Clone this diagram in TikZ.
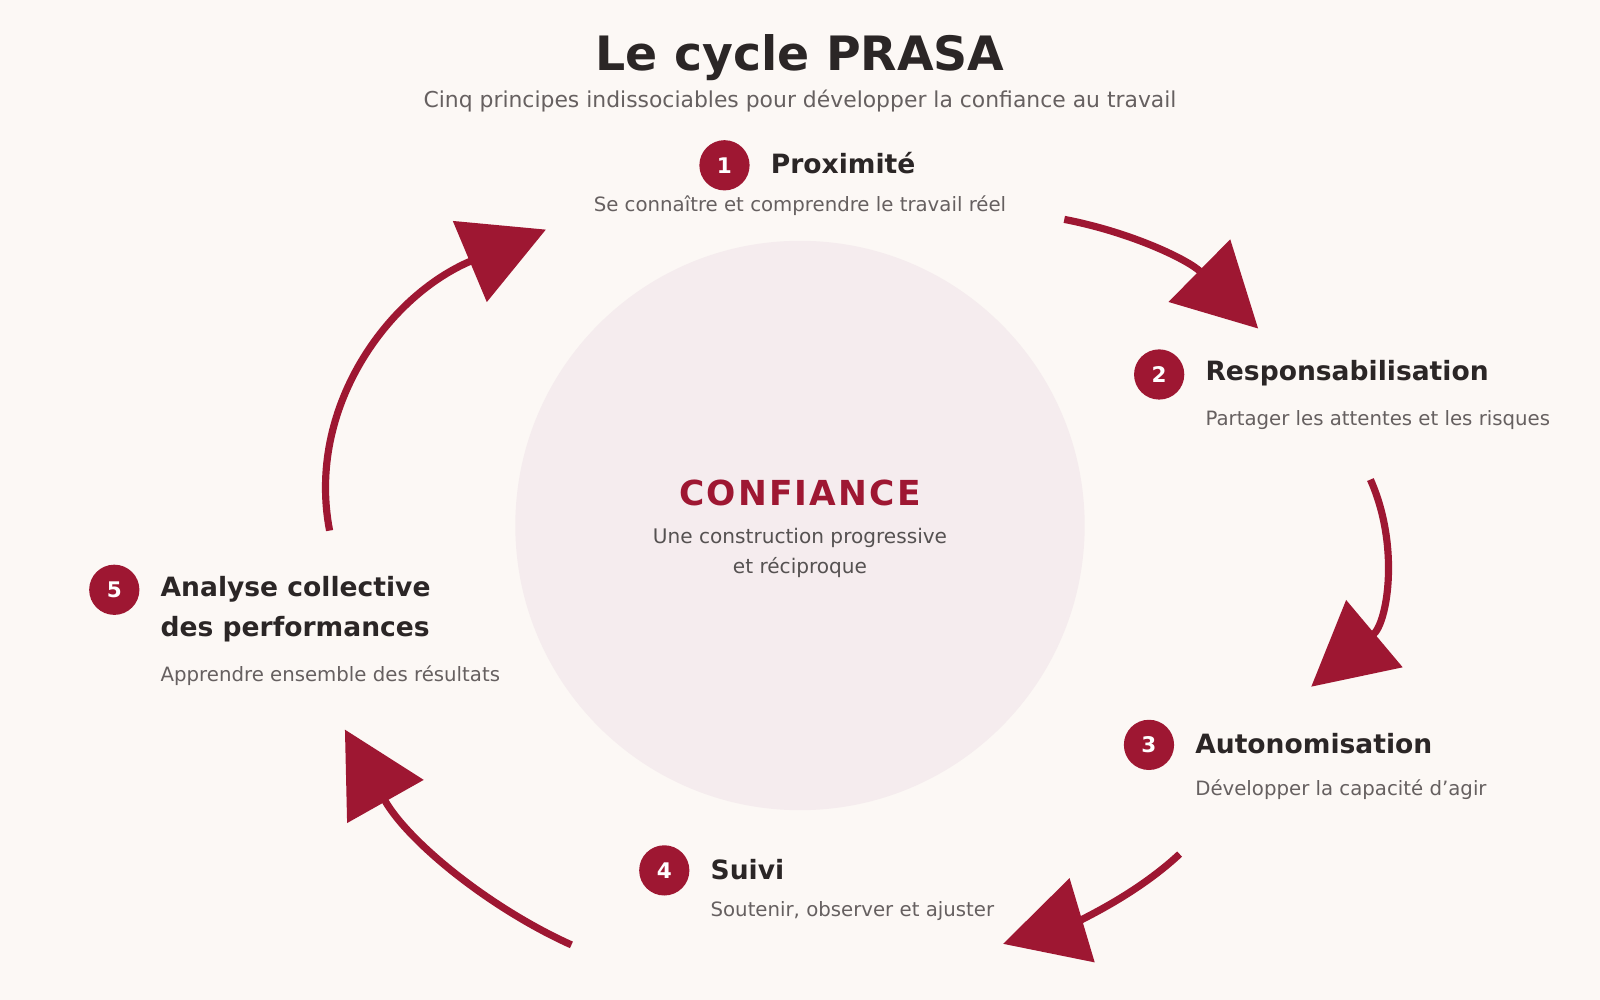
\documentclass[tikz,border=0pt]{standalone}
\usepackage{fontspec}
\setmainfont{DejaVu Sans}
\usetikzlibrary{arrows.meta, positioning}
\definecolor{crimson}{HTML}{9E1732}
\definecolor{paper}{HTML}{FCF8F5}
\definecolor{halo}{HTML}{F5ECEE}
\definecolor{ink}{HTML}{2B2626}
\definecolor{muted}{HTML}{666060}
\tikzset{
  num/.style={circle, fill=crimson, minimum size=14pt, inner sep=0pt, text=white, font=\fontsize{6}{7}\selectfont\bfseries},
  phase/.style={anchor=west, text=ink, font=\fontsize{7.4}{11}\selectfont\bfseries, align=left},
  desc/.style={anchor=west, text=muted, font=\fontsize{5.5}{7}\selectfont},
  flow/.style={crimson, line width=2pt, -{Triangle[length=23pt, width=24pt]}}
}
\begin{document}
\begin{tikzpicture}[x=0.01cm, y=-0.01cm]
  \fill[paper] (0,0) rectangle (1568,980);
  \useasboundingbox (0,0) rectangle (1568,980);
  \fill[halo] (784,515) circle (279);
  % titre
  \node[text=ink, font=\fontsize{13.2}{16}\selectfont\bfseries] (title) at (784,56) {Le cycle PRASA};
  \node[text=muted, font=\fontsize{6.1}{8}\selectfont] (subtitle) at (784,99) {Cinq principes indissociables pour développer la confiance au travail};
  % centre
  \node[text=crimson, font=\fontsize{9.6}{12}\selectfont\bfseries] (core) at (784,483) {C\kern.6pt O\kern.6pt N\kern.6pt F\kern.6pt I\kern.6pt A\kern.6pt N\kern.6pt C\kern.6pt E};
  \node[text=ink!80, font=\fontsize{5.6}{8.3}\selectfont, align=center] (coretext) at (784,542) {Une construction progressive\\et réciproque};
  % etapes
  \node[num] (n1) at (710,162) {1};
  \node[phase] (s1) at (743,160) {Proximité};
  \node[text=muted, font=\fontsize{5.5}{7}\selectfont] (d1) at (784,202) {Se connaître et comprendre le travail réel};
  \node[num] (n2) at (1136,367) {2};
  \node[phase] (s2) at (1169,366) {Responsabilisation};
  \node[desc] (d2) at (1169,412) {Partager les attentes et les risques};
  \node[num] (n3) at (1126,730) {3};
  \node[phase] (s3) at (1159,729) {Autonomisation};
  \node[desc] (d3) at (1159,774) {Développer la capacité d’agir};
  \node[num] (n4) at (651,853) {4};
  \node[phase] (s4) at (684,852) {Suivi};
  \node[desc] (d4) at (684,893) {Soutenir, observer et ajuster};
  \node[num] (n5) at (112,578) {5};
  \node[phase] (s5) at (145,597) {Analyse collective\\des performances};
  \node[desc] (d5) at (145,662) {Apprendre ensemble des résultats};
  % fleches
  \coordinate (a1) at (1043,215); \coordinate (b1) at (1233,322);
  \coordinate (a2) at (1343,470); \coordinate (b2) at (1285,673);
  \coordinate (a3) at (1156,837); \coordinate (b3) at (983,925);
  \coordinate (a4) at (560,926);  \coordinate (b4) at (338,715);
  \coordinate (a5) at (323,520);  \coordinate (b5) at (535,225);
  \draw[flow] (a1) .. controls (1110,228) and (1165,255) .. (b1);
  \draw[flow] (a2) .. controls (1372,535) and (1360,610) .. (b2);
  \draw[flow] (a3) .. controls (1110,880) and (1050,905) .. (b3);
  \draw[flow] (a4) .. controls (480,890) and (400,825) .. (b4);
  \draw[flow] (a5) .. controls (300,400) and (380,290) .. (b5);
\end{tikzpicture}
\end{document}
